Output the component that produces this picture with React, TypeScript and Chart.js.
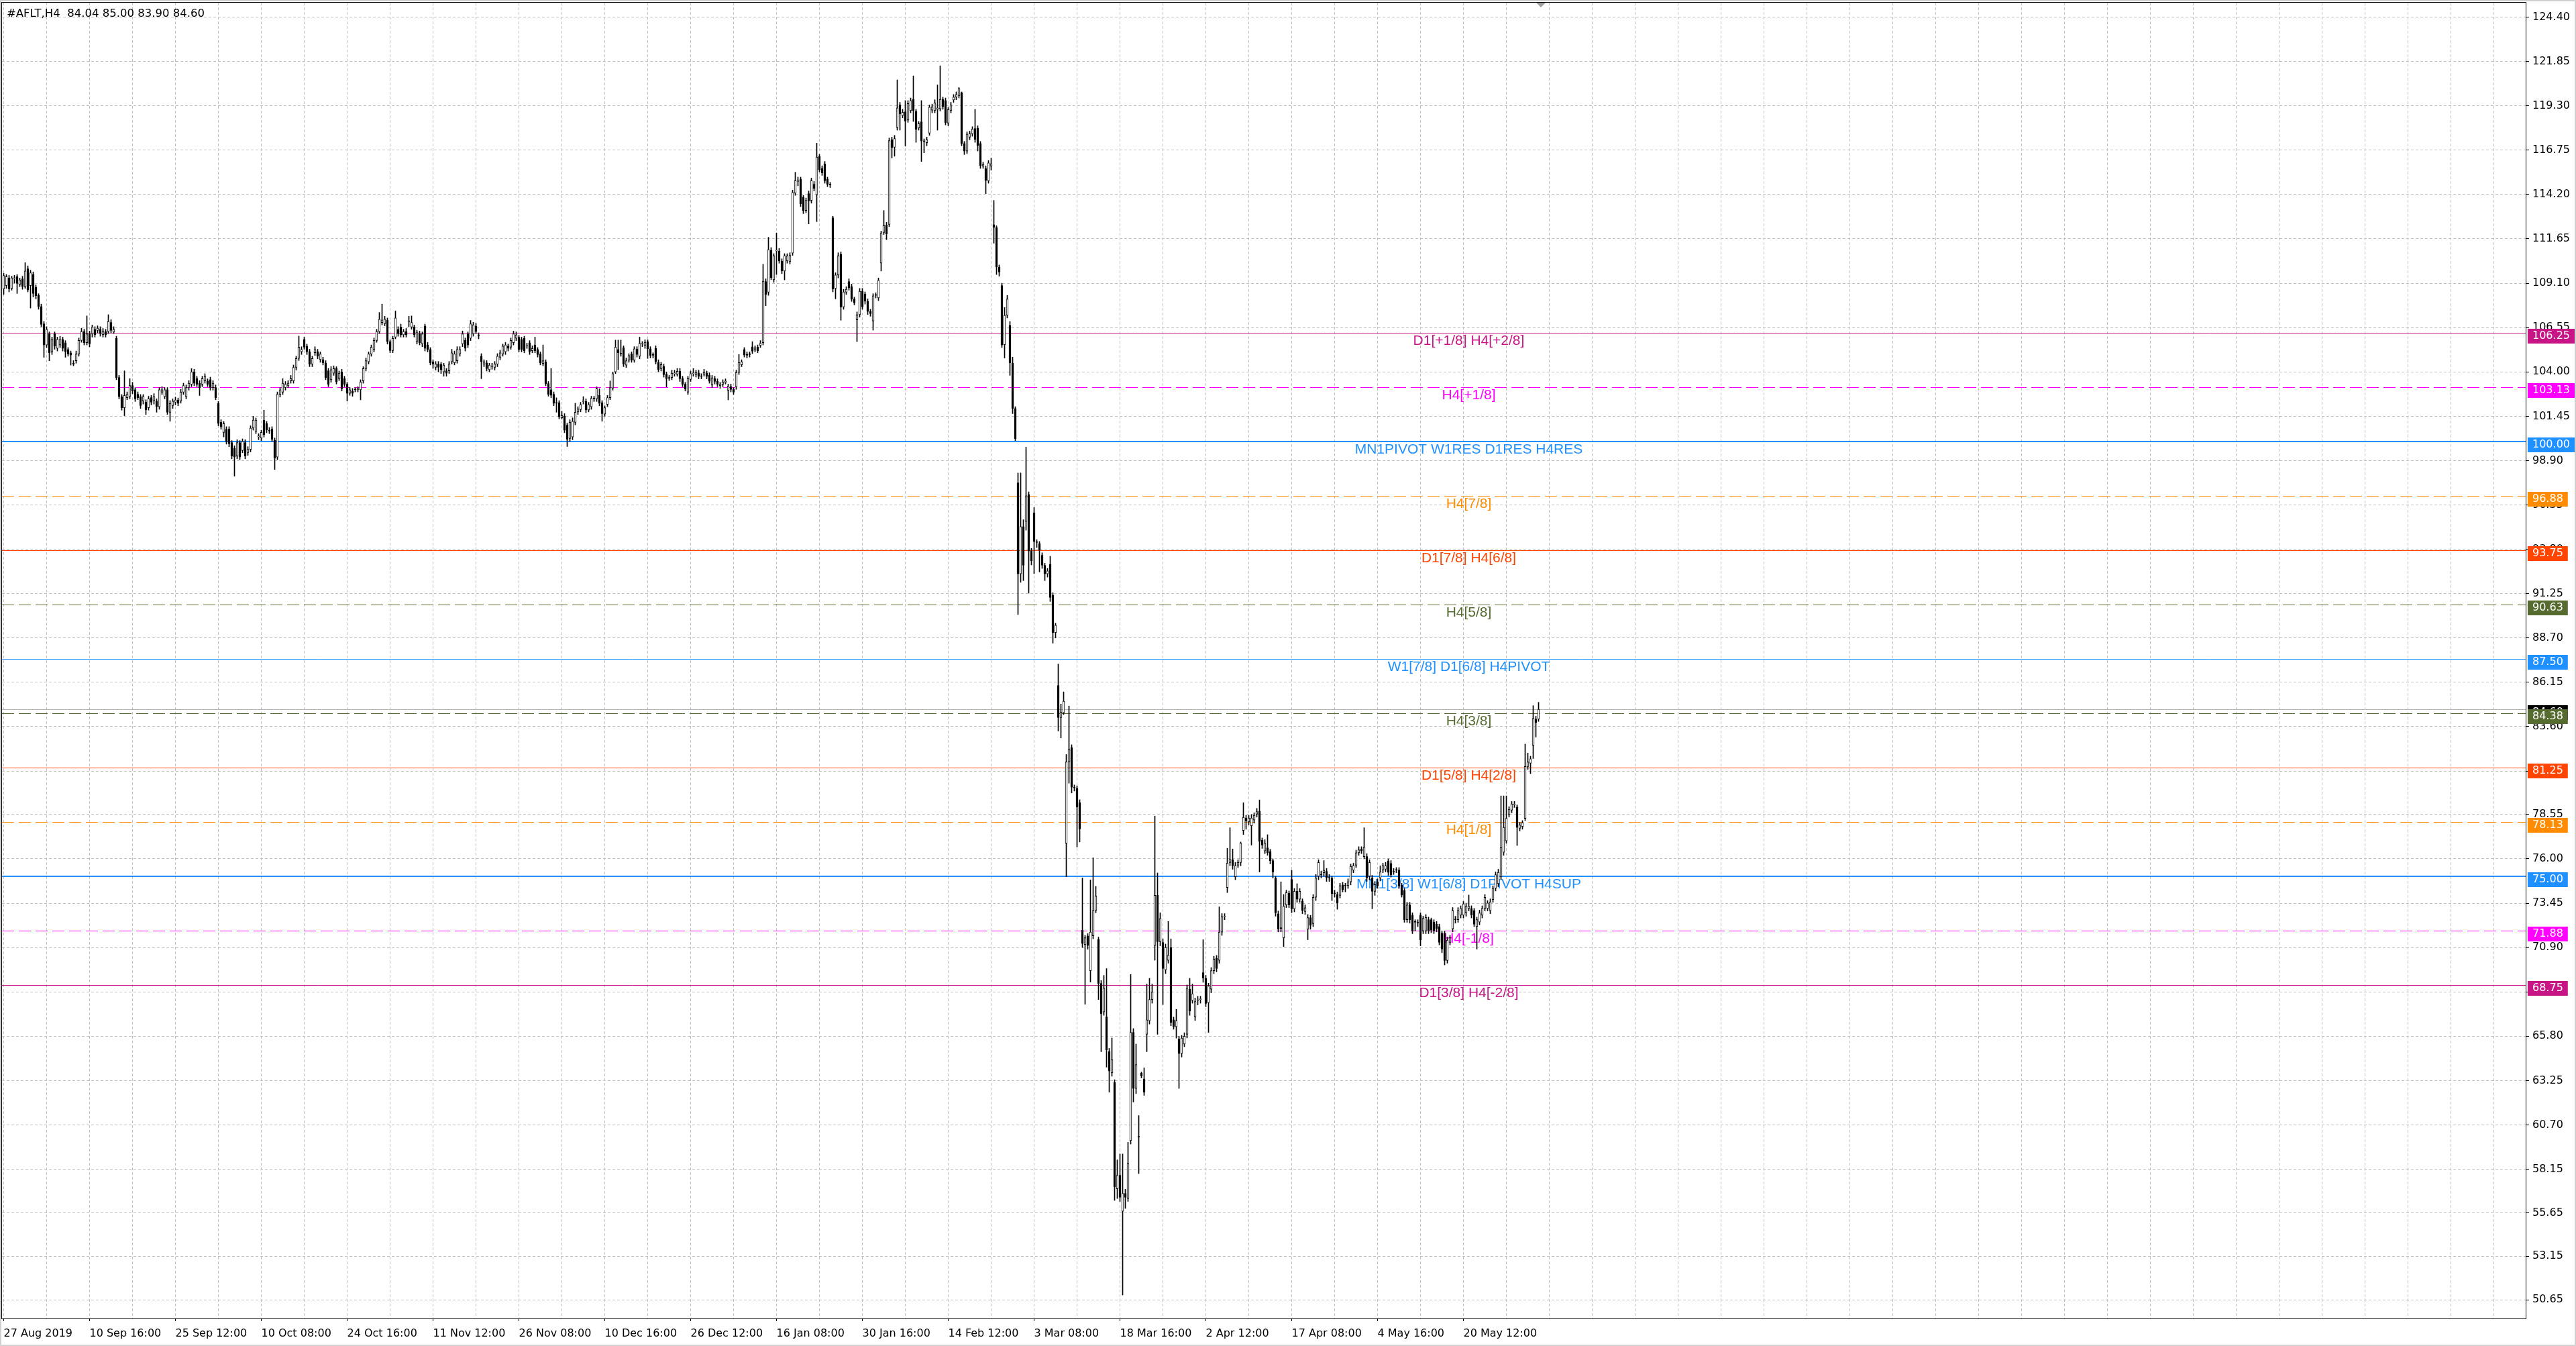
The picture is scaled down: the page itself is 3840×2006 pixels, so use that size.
import React, { useEffect, useRef } from 'react';
import { Chart, registerables } from 'chart.js';

Chart.register(...registerables);

const W = 3840;
const H = 2006;

// ---- x axis (H4 bars) ----
const timeLabels = [
  '27 Aug 2019', '10 Sep 16:00', '25 Sep 12:00', '10 Oct 08:00', '24 Oct 16:00', '11 Nov 12:00',
  '26 Nov 08:00', '10 Dec 16:00', '26 Dec 12:00', '16 Jan 08:00', '30 Jan 16:00', '14 Feb 12:00',
  '3 Mar 08:00', '18 Mar 16:00', '2 Apr 12:00', '17 Apr 08:00', '4 May 16:00', '20 May 12:00',
];
const BARS_PER_LABEL = 32;
const BARS_PER_GRID = 16;
const X_MIN = -0.625;
const X_MAX = 939.875;

// ---- y axis ----
const priceTicks = [
  124.4, 121.85, 119.3, 116.75, 114.2, 111.65, 109.1, 106.55, 104.0, 101.45, 98.9, 96.35, 93.8, 91.25,
  88.7, 86.15, 83.6, 81.05, 78.55, 76.0, 73.45, 70.9, 68.35, 65.8, 63.25, 60.7, 58.15, 55.65, 53.15, 50.65,
];
const priceTickLabels = [
  '124.40', '121.85', '119.30', '116.75', '114.20', '111.65', '109.10', '106.55', '104.00', '101.45',
  '98.90', '96.35', '93.80', '91.25', '88.70', '86.15', '83.60', '81.05', '78.55', '76.00', '73.45',
  '70.90', '68.35', '65.80', '63.25', '60.70', '58.15', '55.65', '53.15', '50.65',
];
const Y_MIN = 49.57;
const Y_MAX = 125.23;

// ---- Murrey / pivot levels ----
const levelPrices = [106.25, 103.13, 100.0, 96.88, 93.75, 90.63, 87.5, 84.38, 81.25, 78.13, 75.0, 71.88, 68.75];
const levelTexts = [
  'D1[+1/8] H4[+2/8]', 'H4[+1/8]', 'MN1PIVOT W1RES D1RES H4RES', 'H4[7/8]', 'D1[7/8] H4[6/8]', 'H4[5/8]',
  'W1[7/8] D1[6/8] H4PIVOT', 'H4[3/8]', 'D1[5/8] H4[2/8]', 'H4[1/8]', 'MN1[3/8] W1[6/8] D1PIVOT H4SUP',
  'H4[-1/8]', 'D1[3/8] H4[-2/8]',
];
const levelColors = [
  '#C71585', '#FF00FF', '#1E90FF', '#FF8C00', '#FF4500', '#556B2F', '#1E90FF', '#556B2F', '#FF4500',
  '#FF8C00', '#1E90FF', '#FF00FF', '#C71585',
];
const levelDashed = [false, true, false, true, false, true, false, true, false, true, false, true, false];
const levelWidths = [1, 1, 2, 1, 1, 1, 1, 1, 1, 1, 2, 1, 1];
const LABEL_BAR = 546;
const bidPrice = 84.6;
const titleText = '#AFLT,H4  84.04 85.00 83.90 84.60';

// ---- candles [open, high, low, close] ----
const ohlc: number[][] = [
  [108.77,109.67,108.45,109.54],[108.96,109.6,108.8,109.48],[109.41,109.55,108.6,108.77],[108.8,109.5,108.7,109.41],
  [109.38,109.55,109.1,109.4],[109.48,109.6,108.51,109.09],[109.03,109.4,108.9,109.29],[109.35,109.5,108.75,108.9],
  [108.9,110.28,108.8,109.8],[109.93,110.1,108.6,108.71],[108.96,109.85,107.67,109.7],[109.61,109.75,108.3,108.51],
  [108.87,109.0,108.2,108.38],[108.4,108.5,107.6,107.76],[107.76,107.9,106.6,106.73],[106.77,106.9,104.84,105.55],
  [105.55,106.6,105.4,106.45],[106.19,106.3,104.64,105.1],[105.16,106.0,105.0,105.87],[106.19,106.3,105.3,105.48],
  [105.35,106.0,105.2,105.87],[105.55,106.05,105.4,105.87],[105.87,106.0,105.2,105.35],[105.68,105.8,104.84,105.16],
  [105.29,105.4,104.9,105.03],[105.1,105.2,104.39,104.97],[104.5,104.65,104.35,104.45],[104.64,105.2,104.5,105.03],
  [105.03,105.95,104.9,105.81],[105.81,106.51,105.7,106.32],[106.32,106.45,105.55,105.68],[105.68,107.22,105.55,106.19],
  [106.19,106.35,105.45,105.61],[106.19,106.7,106.0,106.58],[106.45,106.6,106.0,106.13],[106.39,106.65,106.25,106.51],
  [106.45,106.6,106.05,106.19],[106.13,106.5,106.0,106.32],[106.32,106.45,106.0,106.13],[106.32,107.29,106.2,106.9],
  [106.84,107.0,106.25,106.39],[106.29,106.6,106.2,106.45],[105.93,106.05,103.55,103.68],[103.68,103.8,102.45,102.58],
  [102.58,102.7,101.8,101.94],[101.94,104.06,101.48,102.65],[102.52,102.85,102.4,102.71],[102.58,103.61,102.45,103.22],
  [103.22,103.4,102.75,102.9],[102.97,103.1,102.3,102.45],[102.71,102.85,102.4,102.52],[102.58,102.7,101.9,102.06],
  [102.32,102.7,102.15,102.58],[102.26,102.4,101.55,101.81],[101.94,102.6,101.8,102.45],[102.52,102.65,102.1,102.26],
  [102.32,102.75,102.15,102.58],[102.32,102.45,101.68,102.0],[102.0,103.1,101.85,102.97],[102.84,103.15,102.7,102.97],
  [102.58,103.1,102.45,102.97],[102.97,103.1,101.55,101.68],[101.68,102.35,101.16,102.19],[102.06,102.45,101.9,102.32],
  [102.26,102.55,102.1,102.39],[102.39,102.5,102.05,102.19],[102.32,103.0,102.2,102.84],[102.84,103.35,102.7,103.22],
  [102.58,103.25,102.45,103.1],[103.1,103.5,102.95,103.35],[103.29,104.19,103.15,104.0],[104.0,104.15,103.2,103.35],
  [103.61,103.75,103.15,103.29],[103.35,103.5,102.64,103.1],[103.29,103.75,103.15,103.61],[103.48,103.9,103.35,103.74],
  [103.48,103.6,103.15,103.29],[103.55,103.7,102.95,103.1],[103.1,103.5,102.95,103.35],[103.1,103.25,102.4,102.52],
  [102.19,102.3,100.9,101.03],[101.1,101.25,100.7,100.84],[100.52,101.15,100.26,101.03],[100.71,100.85,99.85,100.0],
  [100.71,100.85,99.7,99.87],[99.94,100.05,99.0,99.16],[99.61,99.75,98.0,99.1],[99.16,100.1,99.0,99.94],
  [99.94,100.05,98.95,99.1],[99.48,100.15,99.35,100.0],[99.94,100.1,99.0,99.16],[99.36,99.7,99.2,99.55],
  [99.55,100.9,99.4,100.77],[100.77,101.45,100.65,101.23],[100.58,101.35,100.45,101.23],[100.26,100.45,100.1,100.32],
  [100.19,100.65,100.05,100.52],[101.23,101.8,100.25,100.39],[101.03,101.15,100.5,100.67],[100.65,100.8,100.45,100.6],
  [100.71,100.85,100.0,100.13],[100.07,100.2,98.39,99.04],[99.1,102.85,98.95,102.71],[102.71,103.1,102.55,102.97],
  [102.84,103.61,102.7,103.35],[103.1,103.45,102.95,103.29],[103.22,103.5,103.1,103.35],[103.48,103.8,103.35,103.61],
  [103.48,104.4,103.35,104.26],[104.26,104.9,104.1,104.77],[104.77,106.06,104.65,105.42],[105.16,105.45,105.0,105.29],
  [105.87,106.0,105.3,105.42],[105.48,105.6,105.0,105.16],[105.16,105.3,104.3,104.45],[104.45,104.9,104.3,104.77],
  [105.1,105.45,104.95,105.29],[105.16,105.3,104.75,104.9],[104.71,105.15,104.55,105.03],[104.71,104.85,104.4,104.52],
  [104.52,104.65,103.55,103.68],[104.06,104.2,103.15,103.29],[103.55,104.3,103.4,104.13],[103.93,104.35,103.8,104.19],
  [104.19,104.3,103.3,103.42],[103.61,104.05,103.5,103.93],[104.0,104.15,102.9,103.03],[103.61,103.75,103.15,103.29],
  [103.29,103.4,102.32,102.77],[102.77,103.1,102.65,102.97],[102.9,103.05,102.6,102.77],[102.97,103.1,102.85,102.97],
  [102.97,103.15,102.85,103.03],[102.97,103.55,102.39,103.42],[103.48,104.3,103.35,104.19],[104.19,104.8,104.05,104.64],
  [104.58,105.15,104.45,105.03],[105.03,105.55,104.9,105.42],[105.29,105.95,105.15,105.81],[105.81,106.45,105.7,106.32],
  [106.32,107.42,106.2,107.03],[106.84,107.9,106.7,106.99],[106.77,107.2,106.65,107.03],[106.97,107.1,105.6,105.74],
  [105.74,105.85,105.1,105.23],[105.23,106.05,105.1,105.93],[106.0,107.5,105.9,107.1],[106.45,106.6,106.05,106.19],
  [106.58,106.75,106.0,106.13],[106.13,106.45,106.0,106.32],[106.32,106.5,106.0,106.13],[106.88,107.2,106.6,106.9],
  [106.58,107.22,106.45,106.84],[106.58,106.7,106.0,106.13],[105.74,106.4,105.6,106.26],[106.19,106.35,105.55,105.68],
  [105.61,106.3,105.45,106.19],[106.64,106.75,105.2,105.35],[105.55,105.7,105.15,105.29],[105.29,105.4,104.4,104.52],
  [104.58,104.7,104.2,104.45],[104.26,104.6,104.1,104.45],[104.45,104.6,104.0,104.26],[104.42,104.55,103.9,104.13],
  [104.0,104.5,103.75,104.39],[104.06,104.2,103.75,103.93],[104.06,104.6,103.9,104.45],[104.58,105.3,104.45,105.1],
  [104.52,105.2,104.4,105.03],[104.64,105.45,104.5,105.29],[105.03,105.45,104.9,105.29],[105.61,106.35,105.45,106.19],
  [105.81,105.95,105.2,105.35],[106.19,106.3,105.4,105.55],[105.93,106.96,105.8,106.77],[106.19,106.85,106.05,106.71],
  [106.64,106.8,106.2,106.32],[106.1,106.25,105.9,106.06],[104.9,105.05,103.61,104.58],[104.45,104.7,104.3,104.58],
  [104.52,104.65,104.05,104.19],[104.13,104.5,104.0,104.39],[104.3,104.5,104.15,104.32],[104.26,104.6,104.1,104.45],
  [104.45,105.05,104.3,104.9],[104.84,105.25,104.7,105.1],[105.03,105.6,104.9,105.48],[105.16,105.7,105.0,105.55],
  [105.48,105.6,105.2,105.35],[105.42,105.95,105.3,105.81],[105.68,106.35,105.55,106.19],[105.93,106.3,105.8,106.13],
  [105.99,106.1,105.15,105.29],[105.87,106.0,105.15,105.29],[105.93,106.05,105.1,105.22],[105.48,105.65,105.35,105.52],
  [105.68,105.8,105.0,105.16],[105.22,105.5,105.1,105.35],[105.55,106.0,105.1,105.22],[105.29,105.4,104.85,105.0],
  [105.03,105.15,104.4,104.51],[104.49,105.55,104.35,104.64],[104.58,104.7,103.2,103.33],[103.33,103.45,102.6,102.71],
  [102.97,104.19,102.51,102.65],[102.71,102.85,102.05,102.19],[102.22,102.51,101.68,102.2],[102.23,102.35,101.3,101.42],
  [101.36,101.74,101.29,101.49],[101.46,101.6,100.5,100.65],[100.94,101.05,99.71,100.13],[100.17,101.25,100.0,101.1],
  [100.26,101.36,100.1,101.16],[101.1,102.2,100.95,101.68],[101.7,102.0,101.55,101.87],[101.83,102.25,101.7,102.13],
  [102.3,102.58,102.15,102.32],[102.3,102.45,101.65,101.81],[101.81,102.25,101.7,102.13],[102.0,102.6,101.85,102.48],
  [102.45,102.6,102.3,102.45],[102.45,103.14,102.3,103.03],[102.65,103.03,102.05,102.19],[102.23,102.35,101.16,101.6],
  [101.57,102.05,101.45,101.94],[102.13,102.65,102.0,102.52],[102.52,103.48,102.4,103.1],[103.07,104.0,102.95,103.9],
  [104.0,105.83,103.9,105.42],[105.29,105.83,104.13,105.1],[105.05,105.83,104.9,105.03],[105.39,105.5,104.3,104.45],
  [104.39,104.8,104.25,104.64],[104.67,105.05,104.55,104.93],[105.03,105.15,104.55,104.68],[104.68,105.45,104.55,105.33],
  [105.32,105.45,104.85,105.0],[104.9,106.0,104.75,105.64],[105.6,105.75,105.45,105.62],[105.51,105.85,105.35,105.7],
  [105.74,105.85,104.77,105.33],[105.33,105.45,104.8,104.94],[104.96,105.1,104.8,104.96],[105.35,105.5,104.45,104.58],
  [104.55,104.7,104.0,104.13],[104.19,104.55,104.05,104.42],[104.32,104.45,103.7,103.84],[103.87,104.0,103.14,103.61],
  [103.64,103.8,103.5,103.64],[103.68,104.1,103.55,103.93],[103.9,104.1,103.75,103.91],[103.87,104.2,103.75,104.04],
  [104.04,104.2,103.45,103.61],[103.61,103.75,103.15,103.29],[103.29,103.4,102.9,103.01],[102.84,103.75,102.7,103.61],
  [103.57,104.05,103.45,103.9],[103.9,104.19,103.75,103.91],[103.84,104.1,103.7,103.97],[103.94,104.1,103.6,103.74],
  [103.74,103.9,103.6,103.74],[103.87,104.15,103.75,103.97],[103.94,104.05,103.6,103.74],[103.81,103.95,103.35,103.46],
  [103.26,103.8,103.1,103.64],[103.61,103.75,103.3,103.45],[103.46,103.6,103.15,103.29],[103.2,103.4,103.05,103.29],
  [103.29,103.55,103.15,103.42],[103.39,103.6,103.3,103.48],[102.94,103.3,102.39,103.19],[103.15,103.3,102.85,102.99],
  [103.0,103.1,102.7,102.84],[103.14,104.1,103.0,103.97],[103.97,105.0,103.85,104.55],[104.41,104.7,104.3,104.58],
  [105.29,105.4,104.85,104.97],[104.93,105.15,104.8,105.0],[105.0,105.15,104.85,105.0],[105.44,105.74,105.05,105.19],
  [105.26,105.5,105.15,105.38],[105.42,105.55,105.1,105.22],[105.52,105.8,105.4,105.65],[105.68,110.19,105.55,109.22],
  [109.2,109.35,107.8,108.45],[108.58,111.74,108.4,111.03],[111.0,111.15,109.3,109.42],[109.3,110.8,109.15,110.67],
  [110.95,111.99,109.6,110.97],[110.94,111.1,110.25,110.38],[110.36,110.5,109.65,109.8],[109.8,110.8,109.29,110.68],
  [110.38,110.8,110.25,110.67],[110.34,110.85,110.2,110.7],[110.83,114.45,110.7,114.32],[114.28,115.48,114.15,114.99],
  [114.95,115.2,114.7,114.96],[115.09,115.2,113.5,113.67],[114.03,114.15,113.1,113.26],[113.28,114.0,113.15,113.86],
  [114.25,114.4,112.51,113.83],[113.86,115.15,113.7,114.99],[114.79,114.95,114.4,114.55],[114.19,117.15,112.64,116.35],
  [116.38,116.5,115.5,115.63],[115.7,115.85,115.3,115.44],[115.97,116.1,114.85,114.99],[115.09,115.2,114.65,114.79],
  [114.77,114.9,114.6,114.76],[112.86,112.95,108.6,108.77],[108.8,109.7,108.2,109.57],[109.57,110.85,109.4,110.67],
  [110.77,110.9,106.97,107.74],[107.74,108.75,107.6,108.6],[108.58,108.9,108.45,108.75],[109.2,109.35,108.7,108.83],
  [108.9,109.05,108.05,108.19],[108.19,108.3,107.85,107.97],[106.99,107.45,105.74,107.29],[107.29,108.8,107.15,108.64],
  [108.64,108.8,107.6,107.74],[108.48,108.6,107.9,108.06],[108.06,108.2,107.3,107.48],[107.48,107.6,107.2,107.35],
  [106.93,108.5,106.4,108.38],[108.4,108.55,108.25,108.4],[108.26,109.4,108.1,109.26],[110.25,112.1,109.8,111.99],
  [112.02,113.28,111.9,112.41],[112.45,112.6,111.6,111.93],[112.48,117.45,112.35,117.3],[117.35,117.5,116.3,116.9],
  [116.92,117.6,116.4,117.41],[118.06,120.79,117.9,119.18],[119.35,119.5,117.9,118.83],[118.74,119.1,118.6,118.93],
  [118.96,119.6,116.98,118.42],[118.48,119.6,118.35,119.43],[119.02,119.75,118.9,119.6],[119.67,121.02,118.4,119.02],
  [118.98,119.1,117.2,117.95],[118.03,118.4,117.9,118.27],[118.38,119.6,116.1,117.28],[117.26,117.4,116.6,117.25],
  [117.18,117.5,117.0,117.35],[117.73,119.35,117.6,119.22],[119.05,119.4,118.9,119.24],[119.02,119.65,118.9,119.47],
  [119.09,120.5,117.9,119.18],[119.13,121.6,119.0,119.67],[119.67,119.8,119.1,119.25],[119.6,119.75,118.2,118.34],
  [118.31,119.2,118.15,119.09],[119.02,119.5,118.9,119.35],[119.64,119.95,119.5,119.8],[119.8,120.1,119.65,119.95],
  [119.89,120.35,119.75,120.29],[120.05,120.1,117.0,117.13],[117.13,117.25,116.5,116.7],[116.7,117.8,116.55,117.67],
  [117.5,117.85,117.35,117.69],[117.69,118.1,117.55,117.96],[117.99,119.1,117.2,117.37],[118.01,118.15,116.7,117.02],
  [117.13,117.25,115.7,115.86],[115.84,116.05,115.7,115.93],[115.7,115.85,114.25,115.02],[114.99,116.15,114.85,116.02],
  [115.84,116.3,115.6,115.97],[112.47,113.86,111.4,112.32],[112.29,112.4,109.6,110.03],[110.03,110.15,109.5,109.74],
  [108.96,109.1,105.4,105.55],[105.57,107.7,104.8,107.25],[107.25,108.4,107.1,108.19],[106.68,106.9,103.8,104.51],
  [104.51,104.85,101.6,101.89],[101.89,102.0,100.05,100.16],[97.62,98.19,90.05,92.39],[92.39,98.19,91.9,95.1],
  [95.1,95.5,92.0,92.88],[95.4,99.67,94.9,96.88],[96.95,97.1,91.28,93.7],[93.7,93.85,92.9,93.13],
  [95.89,96.2,92.4,94.24],[94.19,94.35,93.9,94.19],[94.12,94.25,92.5,93.75],[93.45,93.6,92.7,92.88],
  [92.88,93.0,92.0,92.39],[92.39,92.7,92.2,92.56],[92.93,93.4,90.8,91.03],[91.15,91.3,88.4,89.01],
  [89.01,89.55,88.7,89.43],[85.97,87.2,83.35,84.12],[84.12,84.9,82.95,84.45],[84.4,85.6,84.3,85.06],
  [76.9,82.0,74.97,81.57],[81.57,84.79,80.35,82.3],[82.39,82.56,79.79,80.12],[80.1,80.25,79.9,80.08],
  [80.06,80.2,76.68,78.97],[79.23,79.4,76.97,77.72],[71.91,74.9,70.9,71.13],[71.06,71.6,67.64,71.46],
  [71.57,71.7,70.8,71.02],[69.57,74.79,68.91,71.79],[71.57,76.06,71.4,73.02],[73.02,74.42,72.9,73.86],
  [71.37,71.5,67.91,68.84],[68.84,69.0,64.91,67.09],[67.2,69.3,67.0,68.57],[66.91,69.69,64.02,65.02],
  [64.91,65.1,62.58,63.8],[63.69,65.7,63.5,64.47],[63.14,63.3,56.36,57.14],[57.03,58.69,56.47,57.8],
  [57.8,59.03,56.3,56.54],[55.74,59.03,50.92,56.76],[56.76,57.0,55.9,56.54],[56.47,59.7,56.3,58.47],
  [59.8,69.35,59.6,66.02],[66.02,66.24,62.02,62.8],[62.8,65.35,62.5,64.17],[60.02,61.24,57.9,60.0],
  [63.69,63.74,63.4,63.51],[63.35,63.98,62.4,62.58],[65.91,68.8,64.91,66.75],[66.69,69.13,66.5,67.91],
  [67.91,68.8,67.7,68.35],[71.02,78.46,70.17,73.9],[73.9,75.19,65.91,71.24],[71.24,72.9,71.0,72.57],
  [71.19,71.4,67.62,69.69],[69.62,71.1,69.4,70.9],[70.17,72.4,70.0,70.46],[70.9,71.4,66.4,66.58],
  [66.75,66.9,66.2,66.35],[66.35,67.35,65.69,66.69],[65.64,65.8,62.8,64.8],[64.8,65.85,64.6,65.69],
  [65.35,66.0,65.2,65.8],[65.91,68.75,65.7,68.57],[68.51,69.13,67.0,67.24],[67.86,68.8,67.7,68.24],
  [66.91,68.0,66.7,67.8],[67.85,68.1,67.6,67.86],[67.91,68.1,67.7,67.92],[69.46,71.35,68.9,69.13],
  [69.13,69.3,67.5,67.69],[67.73,68.85,66.02,68.68],[68.51,69.75,68.3,69.57],[69.57,70.4,69.4,70.24],
  [70.3,70.45,69.5,69.69],[70.17,73.24,70.0,71.79],[71.79,72.85,71.6,72.68],[72.68,72.85,72.5,72.69],
  [74.35,76.61,74.06,75.75],[75.79,77.79,75.6,75.97],[75.95,76.57,75.4,75.61],[74.97,75.8,74.8,75.61],
  [75.64,75.95,75.5,75.79],[75.79,76.97,75.6,76.9],[77.63,79.23,77.4,78.39],[78.35,78.5,77.7,78.17],
  [78.12,78.5,77.95,78.35],[77.9,78.55,76.79,78.35],[78.23,78.65,78.05,78.5],[78.57,78.9,78.4,78.72],
  [78.74,79.39,75.24,77.01],[77.08,77.2,76.6,76.79],[76.46,77.1,76.3,76.9],[76.63,77.39,76.2,76.35],
  [76.41,76.55,75.7,75.9],[75.9,76.0,74.9,75.24],[74.9,75.0,72.7,72.9],[72.84,73.0,71.8,71.95],
  [72.02,74.68,71.8,72.0],[71.46,73.95,70.95,73.28],[73.35,74.2,73.2,74.06],[74.02,74.15,73.2,73.35],
  [74.82,75.35,72.9,73.13],[73.13,74.3,72.95,74.13],[74.13,74.57,73.5,73.68],[73.68,74.3,73.5,74.13],
  [73.57,73.7,72.85,73.02],[72.97,73.35,72.8,73.19],[71.95,72.8,71.35,72.62],[72.62,72.75,71.95,72.17],
  [72.28,73.95,72.1,73.79],[73.79,75.1,73.6,74.9],[75.01,75.95,74.8,75.79],[75.08,75.3,74.9,75.08],
  [75.2,75.9,75.0,75.35],[75.28,75.45,74.7,74.9],[74.9,75.1,74.7,74.9],[74.9,75.0,73.6,74.01],
  [74.01,74.2,73.8,74.0],[73.95,74.1,73.1,73.46],[73.9,74.6,73.75,74.46],[74.5,74.65,74.1,74.24],
  [74.46,74.6,74.1,74.45],[74.46,74.85,74.3,74.68],[74.68,75.7,74.5,75.57],[75.35,75.75,75.2,75.61],
  [75.64,76.5,75.5,76.35],[76.35,76.7,76.2,76.52],[76.57,76.7,76.3,76.46],[76.13,77.79,76.0,76.68],
  [76.13,76.3,74.7,74.9],[75.01,75.95,74.8,75.79],[74.9,75.05,73.13,74.13],[74.13,74.7,73.9,74.52],
  [74.68,74.85,74.3,74.46],[74.9,75.6,74.75,75.24],[75.35,75.75,75.2,75.61],[75.4,75.8,75.25,75.6],
  [75.87,76.0,75.05,75.22],[75.74,75.9,74.95,75.09],[75.27,75.45,75.1,75.26],[75.35,75.5,75.2,75.35],
  [75.35,75.5,74.3,74.44],[74.49,74.6,73.8,73.92],[74.18,74.3,72.35,72.5],[72.5,73.5,72.35,73.35],
  [73.35,73.5,72.3,72.5],[72.76,72.9,71.7,71.85],[72.37,72.5,71.85,72.36],[72.32,72.5,72.1,72.31],
  [72.76,72.9,71.0,71.33],[71.85,72.7,71.7,72.58],[71.85,72.8,71.7,72.63],[72.5,72.65,71.7,71.85],
  [72.5,72.6,71.75,71.9],[72.37,72.5,71.7,71.85],[72.24,72.4,71.8,71.98],[72.11,72.25,71.05,71.2],
  [71.72,71.85,70.6,70.81],[71.72,71.85,69.9,70.16],[70.16,71.5,70.0,71.33],[71.2,71.6,71.05,71.46],
  [71.98,73.2,71.8,73.02],[72.5,72.7,72.3,72.5],[72.5,73.2,72.35,73.02],[72.76,73.3,72.6,73.15],
  [72.76,73.55,72.6,73.41],[72.89,73.45,72.7,73.28],[73.15,73.92,73.0,73.28],[73.15,73.3,72.6,72.76],
  [73.02,73.15,72.1,72.24],[72.11,72.65,70.81,72.5],[72.37,73.05,72.2,72.89],[72.76,73.3,72.6,73.15],
  [73.15,73.95,73.0,73.79],[73.15,73.6,73.0,73.46],[73.02,73.7,72.85,73.53],[73.66,74.45,73.5,74.31],
  [74.31,75.25,74.15,75.09],[74.57,75.4,74.4,75.22],[74.96,79.62,74.8,76.64],[76.38,79.62,76.2,77.81],
  [77.03,79.62,76.9,78.33],[78.54,79.0,78.4,78.85],[78.8,79.3,78.65,79.16],[79.11,79.3,78.95,79.12],
  [78.98,79.1,76.77,77.81],[77.76,78.1,77.6,77.94],[77.86,78.2,77.7,78.07],[78.33,82.6,78.2,81.31],
  [81.31,82.08,81.15,81.57],[81.5,81.9,80.9,81.75],[82.53,84.81,81.77,84.08],[84.03,84.2,83.0,83.82],
  [84.04,85.0,83.9,84.6],
];

const FONT_AXIS = '16px "DejaVu Sans"';
const FONT_LEVEL = '21px "Liberation Sans", Arial, sans-serif';

const overlayPlugin = {
  id: 'mt4Overlay',
  beforeDatasetsDraw(chart: any) {
    const { ctx, chartArea, scales } = chart;
    const y = scales.y;
    const x = scales.x;
    ctx.save();
    ctx.beginPath();
    ctx.rect(chartArea.left, chartArea.top, chartArea.right - chartArea.left, chartArea.bottom - chartArea.top);
    ctx.clip();
    // bid line
    const by = Math.round(y.getPixelForValue(bidPrice)) + 0.5;
    ctx.strokeStyle = '#b4b4b4';
    ctx.lineWidth = 1;
    ctx.setLineDash([]);
    ctx.beginPath();
    ctx.moveTo(chartArea.left, by);
    ctx.lineTo(chartArea.right, by);
    ctx.stroke();
    levelPrices.forEach((p, i) => {
      const w = levelWidths[i];
      const py = Math.round(y.getPixelForValue(p)) + (w % 2 ? 0.5 : 0);
      ctx.strokeStyle = levelColors[i];
      ctx.lineWidth = w;
      ctx.setLineDash(levelDashed[i] ? [18, 7] : []);
      ctx.beginPath();
      ctx.moveTo(chartArea.left, py);
      ctx.lineTo(chartArea.right, py);
      ctx.stroke();
    });
    ctx.setLineDash([]);
    ctx.font = FONT_LEVEL;
    ctx.textAlign = 'center';
    ctx.textBaseline = 'alphabetic';
    const cx = x.getPixelForValue(LABEL_BAR);
    levelPrices.forEach((p, i) => {
      const py = y.getPixelForValue(p);
      ctx.fillStyle = levelColors[i];
      ctx.fillText(levelTexts[i], cx, py + 18);
    });
    ctx.restore();
  },
  afterDraw(chart: any) {
    const { ctx, chartArea, scales } = chart;
    const y = scales.y;
    ctx.save();
    // frame
    ctx.strokeStyle = '#000';
    ctx.lineWidth = 1;
    ctx.strokeRect(chartArea.left - 0.5, chartArea.top - 0.5, chartArea.right - chartArea.left + 1, chartArea.bottom - chartArea.top + 1);
    // price boxes
    ctx.font = FONT_AXIS;
    ctx.textAlign = 'left';
    ctx.textBaseline = 'middle';
    const drawBox = (price: number, color: string) => {
      const py = Math.round(y.getPixelForValue(price));
      const txt = price.toFixed(2);
      const tw = ctx.measureText(txt).width;
      ctx.fillStyle = color;
      ctx.fillRect(chartArea.right + 3, py - 6, tw + 14, 22);
      ctx.fillStyle = '#fff';
      ctx.fillText(txt, chartArea.right + 10, py + 5);
    };
    drawBox(bidPrice, '#000');
    levelPrices.forEach((p, i) => drawBox(p, levelColors[i]));
    // title
    ctx.fillStyle = '#000';
    ctx.textBaseline = 'alphabetic';
    ctx.font = '16.5px "DejaVu Sans"';
    ctx.fillText(titleText, 10, 25);
    // chart-shift marker
    const mx = 2297;
    ctx.fillStyle = '#a0a0a0';
    ctx.beginPath();
    ctx.moveTo(mx - 7, chartArea.top);
    ctx.lineTo(mx + 7, chartArea.top);
    ctx.lineTo(mx, chartArea.top + 7);
    ctx.closePath();
    ctx.fill();
    // window frame
    ctx.strokeStyle = '#d0d0d0';
    ctx.lineWidth = 2;
    ctx.strokeRect(1, 1, W - 2, H - 2);
    ctx.restore();
  },
};

const zeroPad = (s: any) => {
  s.paddingTop = 0;
  s.paddingBottom = 0;
  s.paddingLeft = 0;
  s.paddingRight = 0;
};

export default function App() {
  const canvasRef = useRef<HTMLCanvasElement | null>(null);

  useEffect(() => {
    document.body.style.margin = '0';
    document.body.style.overflow = 'hidden';
    const canvas = canvasRef.current;
    if (!canvas) return;

    const bodies = ohlc.map((b, i) => ({ x: i, y: [b[0], b[3]] }));
    const wicks = ohlc.map((b, i) => ({ x: i, y: [b[2], b[1]] }));
    const bodyFill = ohlc.map((b) => (b[3] > b[0] ? '#ffffff' : '#000000'));

    const chart = new Chart(canvas, {
      type: 'bar',
      data: {
        datasets: [
          {
            label: 'wicks',
            data: wicks as any,
            backgroundColor: '#000',
            borderWidth: 0,
            barThickness: 1,
            grouped: false,
            order: 2,
          } as any,
          {
            label: 'bodies',
            data: bodies as any,
            backgroundColor: bodyFill,
            borderColor: '#000',
            borderWidth: 1,
            borderSkipped: false,
            barThickness: 3,
            minBarLength: 1,
            grouped: false,
            order: 1,
          } as any,
        ],
      },
      options: {
        responsive: false,
        maintainAspectRatio: false,
        animation: false,
        devicePixelRatio: 1,
        layout: { padding: { left: 3, top: 4, right: 0, bottom: 0 } },
        plugins: { legend: { display: false }, tooltip: { enabled: false }, title: { display: false } },
        scales: {
          x: {
            type: 'linear',
            min: X_MIN,
            max: X_MAX,
            offset: false,
            afterFit: (s: any) => { s.height = 41; zeroPad(s); },
            afterBuildTicks: (s: any) => {
              const t = [];
              for (let v = 0; v <= X_MAX; v += BARS_PER_GRID) t.push({ value: v });
              s.ticks = t;
            },
            grid: {
              offset: false,
              color: '#c0c0c0',
              lineWidth: 1,
              drawTicks: true,
              tickLength: 4,
              tickColor: (c: any) => {
                const v = c.tick ? c.tick.value : -1;
                return v % BARS_PER_LABEL === 0 && v / BARS_PER_LABEL < timeLabels.length ? '#000' : 'rgba(0,0,0,0)';
              },
            },
            border: { display: false, dash: [4, 3] },
            ticks: {
              autoSkip: false,
              maxRotation: 0,
              minRotation: 0,
              align: 'start',
              padding: 9,
              color: '#000',
              font: { family: 'DejaVu Sans', size: 16 },
              callback: (v: any) => {
                const n = Number(v);
                return n % BARS_PER_LABEL === 0 && n / BARS_PER_LABEL < timeLabels.length ? timeLabels[n / BARS_PER_LABEL] : '';
              },
            },
          },
          y: {
            type: 'linear',
            position: 'right',
            min: Y_MIN,
            max: Y_MAX,
            beginAtZero: false,
            afterFit: (s: any) => { s.width = 75; zeroPad(s); },
            afterBuildTicks: (s: any) => { s.ticks = priceTicks.map((v) => ({ value: v })); },
            grid: { color: '#c0c0c0', lineWidth: 1, drawTicks: true, tickLength: 5, tickColor: '#000' },
            border: { display: false, dash: [4, 3] },
            ticks: {
              padding: 5,
              color: '#000',
              font: { family: 'DejaVu Sans', size: 16 },
              callback: (_v: any, i: number) => priceTickLabels[i],
            },
          },
        },
      } as any,
      plugins: [overlayPlugin],
    });
    return () => chart.destroy();
  }, []);

  return (
    <div style={{ position: 'absolute', left: 0, top: 0, width: W, height: H, background: '#fff' }}>
      <canvas ref={canvasRef} width={W} height={H} style={{ display: 'block', width: W, height: H }} />
    </div>
  );
}
